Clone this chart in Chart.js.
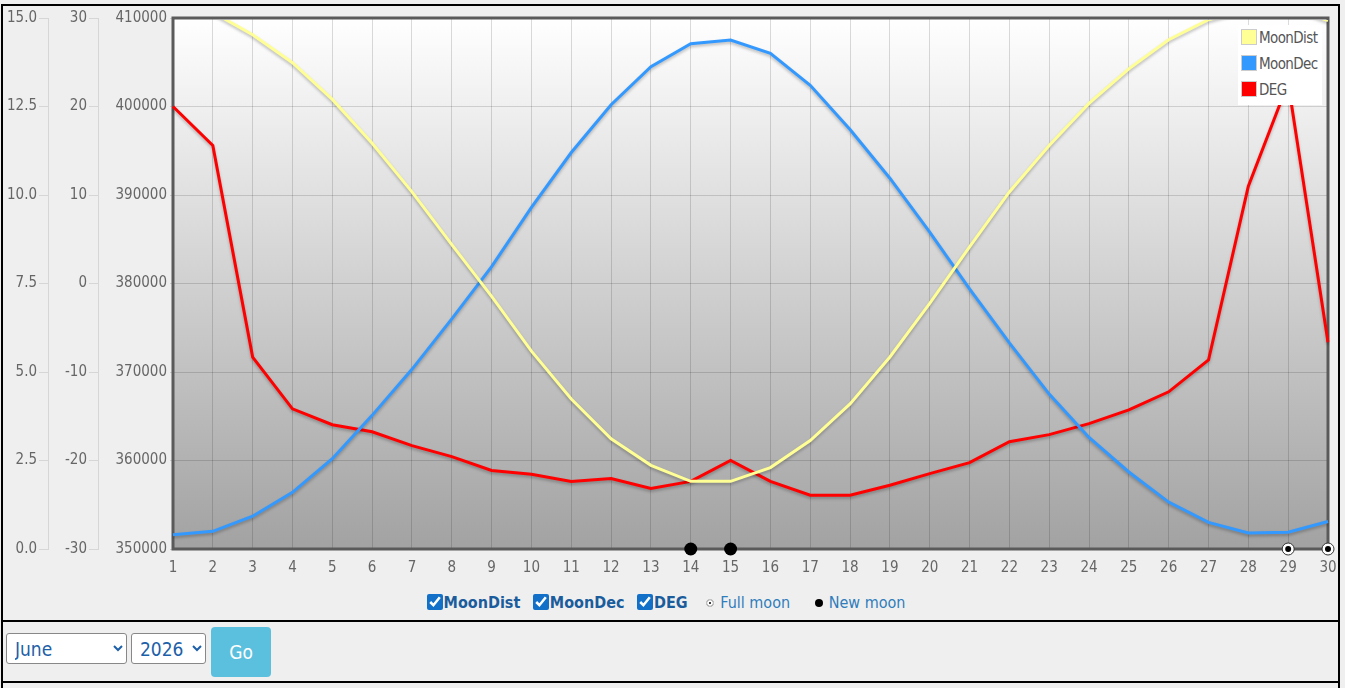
<!DOCTYPE html>
<html>
<head>
<meta charset="utf-8">
<script src="https://cdn.jsdelivr.net/npm/chart.js@4"></script>
<style>
  body { margin: 0; background: #efefef; font-family: 'DejaVu Sans Condensed', 'Liberation Sans Narrow', sans-serif; }
  .frame { position: absolute; left: 1px; top: 4px; width: 1335px; height: 690px; border: 2px solid #000; border-bottom: none; }
  .chartbox { position: absolute; left: 0px; top: 0px; width: 1334px; height: 574px; }
  .sep1 { position: absolute; left: 0; top: 614px; width: 100%; height: 2px; background: #000; }
  .sep2 { position: absolute; left: 0; top: 675px; width: 100%; height: 2px; background: #000; }
  .bottomlegend { position: absolute; left: -4px; top: 587px; width: 1334px; text-align: center; font-size: 16px; }
  .bottomlegend label { color: #1b5c9c; font-weight: bold; margin: 0 8px 0 0; }
  .bottomlegend input { accent-color: #1270c8; width: 16px; height: 16px; margin: 0 1px 0 0; vertical-align: -2px; }
  .bottomlegend .moon { color: #2f7dbb; margin-left: 6px; }
  .dot { display: inline-block; width: 6px; height: 6px; border-radius: 50%; margin-right: 6px; vertical-align: 1px; }
  .inlegend { position: absolute; left: 1235px; top: 19px; width: 84px; height: 80px; background: #fff; font-size: 15px; letter-spacing: -0.6px; color: #555; }
  .inlegend div { height: 26px; line-height: 26px; white-space: nowrap; }
  .inlegend span.sw { display: inline-block; width: 14px; height: 14px; border: 1px solid #ccc; margin: 0 2px 0 3px; vertical-align: -2px; }
  .controls { position: absolute; top: 621px; left: 2px; }
  select { font-family: inherit; font-size: 19px; color: #1d5fa8; background: #fff; border: 1px solid #888; border-radius: 3px; height: 31px; padding: 0 4px; position: absolute; top: 6px; }
  button { position: absolute; left: 206px; top: 0px; width: 60px; height: 50px; background: #5bc0de; color: #fff; border: none; border-radius: 4px; font-family: inherit; font-size: 19px; }
</style>
</head>
<body>
<div class="frame">
  <div class="chartbox"><canvas id="canvas"></canvas></div>
  <div class="inlegend" id="inlegend"></div>
  <div class="bottomlegend">
    <label><input type="checkbox" checked>MoonDist</label>
    <label><input type="checkbox" checked>MoonDec</label>
    <label><input type="checkbox" checked>DEG</label>
    <span class="moon"><span class="dot" style="background:#000;box-shadow:0 0 0 2px #fff inset;border:1px solid #ccc"></span>Full moon</span>
    <span class="moon" style="margin-left:20px"><span class="dot" style="background:#000;width:8px;height:8px"></span>New moon</span>
  </div>
  <div class="sep1"></div>
  <div class="controls">
    <select style="left:1px;width:121px"><option>June</option></select>
    <select style="left:126px;width:75px"><option>2026</option></select>
    <button>Go</button>
  </div>
  <div class="sep2"></div>
</div>
<script>
// 日付
var days = [1,2,3,4,5,6,7,8,9,10,11,12,13,14,15,16,17,18,19,20,21,22,23,24,25,26,27,28,29,30];

// 月の距離 (km)
var moonDist = [411100,410640,408100,404950,400800,395850,390350,384400,378550,372350,
                366950,362450,359450,357650,357650,359200,362250,366400,371700,377750,
                384150,390350,395600,400350,404250,407550,409800,411000,411300,409700];

// 月の赤緯 (度)
var moonDec = [-28.4,-28.0,-26.3,-23.6,-19.8,-14.9,-9.7,-4.0,1.9,8.6,
               14.8,20.2,24.5,27.1,27.5,26.0,22.4,17.4,11.9,5.8,
               -0.6,-6.7,-12.5,-17.4,-21.3,-24.7,-27.0,-28.2,-28.1,-26.9];

// DEG
var deg = [12.5,11.4,5.42,3.96,3.51,3.31,2.92,2.61,2.22,2.11,
           1.91,1.99,1.71,1.91,2.5,1.91,1.52,1.52,1.80,2.13,
           2.44,3.03,3.23,3.54,3.93,4.44,5.34,10.25,13.17,5.84];

// 月相
var fullMoonDays = [29, 30];
var newMoonDays = [14, 15];

var distMin = 350000;

var fullMoonData = days.map(function(d) { return fullMoonDays.indexOf(d) >= 0 ? distMin : null; });
var newMoonData = days.map(function(d) { return newMoonDays.indexOf(d) >= 0 ? distMin : null; });

// 背景のグラデーションと枠線
var plotBg = {
  id: 'plotBg',
  beforeDraw: function(chart) {
    var a = chart.chartArea, ctx = chart.ctx;
    var g = ctx.createLinearGradient(0, a.top, 0, a.bottom);
    g.addColorStop(0, '#ffffff');
    g.addColorStop(1, '#a2a2a2');
    ctx.save();
    ctx.fillStyle = g;
    ctx.fillRect(a.left, a.top, a.right - a.left, a.bottom - a.top);
    ctx.restore();
  },
  beforeDatasetsDraw: function(chart) {
    var a = chart.chartArea, ctx = chart.ctx;
    ctx.save();
    ctx.strokeStyle = '#5a5a5a';
    ctx.lineWidth = 3;
    ctx.strokeRect(a.left, a.top, a.right - a.left, a.bottom - a.top);
    ctx.restore();
  },
  beforeDatasetDraw: function(chart, args) {
    if (args.index < 3) {
      chart.ctx.save();
      chart.ctx.shadowColor = 'rgba(0,0,0,0.25)';
      chart.ctx.shadowBlur = 3;
      chart.ctx.shadowOffsetY = 2;
    }
  },
  afterDatasetDraw: function(chart, args) {
    if (args.index < 3) {
      chart.ctx.restore();
    }
  }
};

Chart.defaults.font.family = "'DejaVu Sans Condensed', 'Liberation Sans Narrow', sans-serif";
Chart.defaults.font.size = 15;
Chart.defaults.color = '#666';

var lineDs = function(label, data, color, axis) {
  return { label: label, data: data, yAxisID: axis, borderColor: color, backgroundColor: color,
           borderWidth: 3, pointRadius: 0, tension: 0, fill: false };
};

var distDs = lineDs('MoonDist', moonDist, '#ffff96', 'yDist');
distDs.clip = { left: 2, top: -2, right: 2, bottom: 2 };

var ctx = document.getElementById('canvas').getContext('2d');
var myChart = new Chart(ctx, {
  type: 'line',
  data: {
    labels: days,
    datasets: [
      distDs,
      lineDs('MoonDec', moonDec, '#3399ff', 'yDec'),
      lineDs('DEG', deg, '#ff0000', 'yDeg'),
      { label: 'Full moon', data: fullMoonData, yAxisID: 'yDist', showLine: false, clip: false, order: -1,
        pointRadius: 6, pointBackgroundColor: '#fff', pointBorderColor: '#333', pointBorderWidth: 1 },
      { label: 'Full moon dot', data: fullMoonData, yAxisID: 'yDist', showLine: false, clip: false, order: -2,
        pointRadius: 3, pointBackgroundColor: '#000', pointBorderWidth: 0 },
      { label: 'New moon', data: newMoonData, yAxisID: 'yDist', showLine: false, clip: false, order: -1,
        pointRadius: 6.5, pointBackgroundColor: '#000', pointBorderColor: '#000', pointBorderWidth: 0 }
    ]
  },
  options: {
    responsive: true,
    maintainAspectRatio: false,
    animation: false,
    layout: { padding: { top: 9, right: 9, left: 1, bottom: 0 } },
    plugins: { legend: { display: false }, tooltip: { enabled: false } },
    scales: {
      x: {
        grid: { color: 'rgba(0,0,0,0.14)', drawTicks: false },
        border: { display: false },
        ticks: { padding: 10, font: { size: 15 }, maxRotation: 0 },
        afterFit: function(s) { s.height = 31; s.paddingLeft = 0; s.paddingRight = 0; }
      },
      yDeg: {
        position: 'left', weight: 2, min: 0, max: 15,
        ticks: { stepSize: 2.5, padding: 2, callback: function(v) { return v.toFixed(1); } },
        grid: { drawOnChartArea: false, color: '#d6d6d6', tickLength: 9 },
        border: { color: '#d6d6d6' },
        afterFit: function(s) { s.width = 44; }
      },
      yDec: {
        position: 'left', weight: 1, min: -30, max: 30,
        ticks: { stepSize: 10, padding: 2 },
        grid: { drawOnChartArea: false, color: '#d6d6d6', tickLength: 9 },
        border: { color: '#d6d6d6' },
        afterFit: function(s) { s.width = 50; }
      },
      yDist: {
        position: 'left', weight: 0, min: distMin, max: 410000,
        ticks: { stepSize: 10000, padding: 3, callback: function(v) { return String(v); } },
        grid: { color: 'rgba(0,0,0,0.14)', tickLength: 3 },
        border: { display: false },
        afterFit: function(s) { s.width = 75; }
      }
    }
  },
  plugins: [plotBg]
});

// 右上の凡例
var leg = document.getElementById('inlegend');
myChart.data.datasets.slice(0, 3).forEach(function(ds) {
  var row = document.createElement('div');
  row.innerHTML = '<span class="sw" style="background:' + ds.borderColor + '"></span>' + ds.label;
  leg.appendChild(row);
});
</script>
</body>
</html>
